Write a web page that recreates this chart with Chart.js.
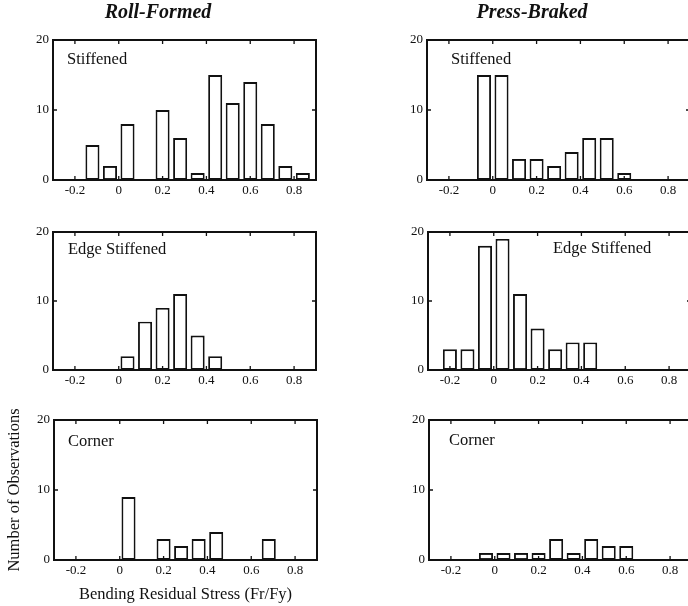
<!DOCTYPE html>
<html><head><meta charset="utf-8">
<script src="https://cdn.jsdelivr.net/npm/chart.js@4/dist/chart.umd.min.js"></script>
<style>
html,body{margin:0;padding:0;background:#fff;}
body{width:688px;height:606px;overflow:hidden;position:relative;}
canvas{position:absolute;}
</style></head><body>
<canvas id="rf1"></canvas><canvas id="pb1"></canvas>
<canvas id="rf2"></canvas><canvas id="pb2"></canvas>
<canvas id="rf3"></canvas><canvas id="pb3"></canvas>
<script>
// ---- data ----
const binCenters = [-0.20,-0.12,-0.04,0.04,0.12,0.20,0.28,0.36,0.44,0.52,0.60,0.68,0.76,0.84];
const xTickValues = [-0.2,0,0.2,0.4,0.6,0.8];
const yTickValues = [0,10,20];
const groupTitles = ['Roll-Formed','Press-Braked'];
const panelNames = ['Stiffened','Edge Stiffened','Corner'];
const rollStiffened  = [0,5,2,8,0,10,6,1,15,11,14,8,2,1];
const rollEdge       = [0,0,0,2,7,9,11,5,2,0,0,0,0,0];
const rollCorner     = [0,0,0,9,0,3,2,3,4,0,0,3,0,0];
const pressStiffened = [0,0,15,15,3,3,2,4,6,6,1,0,0,0];
const pressEdge      = [3,3,18,19,11,6,3,4,4,0,0,0,0,0];
const pressCorner    = [0,0,1,1,1,1,3,1,3,2,2,0,0,0];
const xAxisTitle = 'Bending Residual Stress (Fr/Fy)';
const yAxisTitle = 'Number of Observations';

// ---- layout ----
const FONT = "'Liberation Serif','Times New Roman',serif";
Chart.defaults.font.family = FONT;
Chart.defaults.color = '#111';

const panels = [
  {id:'rf1', counts:rollStiffened,  name:panelNames[0], left:0,   top:0,   w:345, h:205, padTop:1,  padRight:29, xH:25, title:groupTitles[0], dx:14, dy:24},
  {id:'pb1', counts:pressStiffened, name:panelNames[0], left:374, top:0,   w:356, h:205, padTop:1,  padRight:40, xH:25, title:groupTitles[1], dx:24, dy:24},
  {id:'rf2', counts:rollEdge,       name:panelNames[1], left:0,   top:212, w:345, h:183, padTop:20, padRight:29, xH:25, dx:15, dy:22},
  {id:'pb2', counts:pressEdge,      name:panelNames[1], left:375, top:212, w:356, h:183, padTop:20, padRight:40, xH:25, dx:125, dy:21},
  {id:'rf3', counts:rollCorner,     name:panelNames[2], left:1,   top:400, w:345, h:206, padTop:20, padRight:29, xH:46, dx:14, dy:26, xTitle:xAxisTitle, yTitle:yAxisTitle},
  {id:'pb3', counts:pressCorner,    name:panelNames[2], left:376, top:400, w:356, h:185, padTop:20, padRight:40, xH:25, dx:20, dy:25}
];

const framePlugin = {
  id: 'frame',
  afterDraw(chart, args, opts) {
    const {ctx, chartArea: a} = chart;
    const x = chart.scales.x, y = chart.scales.y;
    ctx.save();
    ctx.strokeStyle = '#111';
    ctx.lineWidth = 2;
    ctx.strokeRect(a.left, a.top, a.right - a.left, a.bottom - a.top);
    ctx.lineWidth = 1.3;
    ctx.beginPath();
    xTickValues.forEach(v => {
      const px = x.getPixelForValue(v);
      ctx.moveTo(px, a.top); ctx.lineTo(px, a.top + 4);
      ctx.moveTo(px, a.bottom); ctx.lineTo(px, a.bottom - 4);
    });
    yTickValues.forEach(v => {
      const py = y.getPixelForValue(v);
      ctx.moveTo(a.left, py); ctx.lineTo(a.left + 4, py);
      ctx.moveTo(a.right, py); ctx.lineTo(a.right - 4, py);
    });
    ctx.stroke();
    ctx.fillStyle = '#111';
    ctx.font = '16.5px ' + FONT;
    ctx.textBaseline = 'alphabetic';
    ctx.textAlign = 'left';
    ctx.fillText(opts.text, a.left + opts.dx, a.top + opts.dy);
    ctx.restore();
  }
};

panels.forEach(p => {
  const cv = document.getElementById(p.id);
  cv.width = p.w; cv.height = p.h;
  cv.style.left = p.left + 'px'; cv.style.top = p.top + 'px';
  cv.style.width = p.w + 'px'; cv.style.height = p.h + 'px';
  const pts = [];
  binCenters.forEach((c, i) => { if (p.counts[i] > 0) pts.push({x: c, y: p.counts[i]}); });
  new Chart(cv, {
    type: 'bar',
    data: { datasets: [{
      data: pts,
      backgroundColor: '#fff',
      borderColor: '#111',
      borderWidth: 1.9,
      borderSkipped: false,
      barPercentage: 0.8,
      categoryPercentage: 1.0
    }]},
    options: {
      responsive: false,
      animation: false,
      devicePixelRatio: 1,
      layout: { padding: { top: p.padTop, right: p.padRight, left: 0, bottom: 0 } },
      plugins: {
        legend: { display: false },
        tooltip: { enabled: false },
        title: {
          display: !!p.title,
          text: p.title || '',
          color: '#111',
          font: { size: 20, weight: 'bold', style: 'italic', family: FONT },
          padding: { top: 0, bottom: 15 }
        },
        frame: { text: p.name, dx: p.dx, dy: p.dy }
      },
      scales: {
        x: {
          type: 'linear',
          offset: false,
          min: -0.3, max: 0.9,
          grid: { display: false, drawTicks: false, tickLength: 0, offset: false },
          border: { display: false },
          afterBuildTicks: s => { s.ticks = xTickValues.map(v => ({value: v})); },
          afterFit: s => { s.height = p.xH; },
          ticks: {
            padding: 3,
            maxRotation: 0,
            autoSkip: false,
            color: '#111',
            font: { size: 13, family: FONT },
            callback: v => (Math.abs(v) < 1e-9 ? '0' : Number(v).toFixed(1))
          },
          title: {
            display: !!p.xTitle,
            text: p.xTitle || '',
            color: '#111',
            font: { size: 16.5, family: FONT },
            padding: { top: 0, bottom: 1 }
          }
        },
        y: {
          min: 0, max: 20,
          grid: { display: false, drawTicks: false, tickLength: 0 },
          border: { display: false },
          afterBuildTicks: s => { s.ticks = yTickValues.map(v => ({value: v})); },
          afterFit: s => { s.width = 53; },
          ticks: {
            padding: 4,
            color: '#111',
            font: { size: 13, family: FONT },
            callback: v => String(v)
          },
          title: {
            display: !!p.yTitle,
            text: p.yTitle || '',
            color: '#111',
            font: { size: 16.5, family: FONT },
            padding: { top: 4, bottom: 0 }
          }
        }
      }
    },
    plugins: [framePlugin]
  });
});
</script>
</body></html>
